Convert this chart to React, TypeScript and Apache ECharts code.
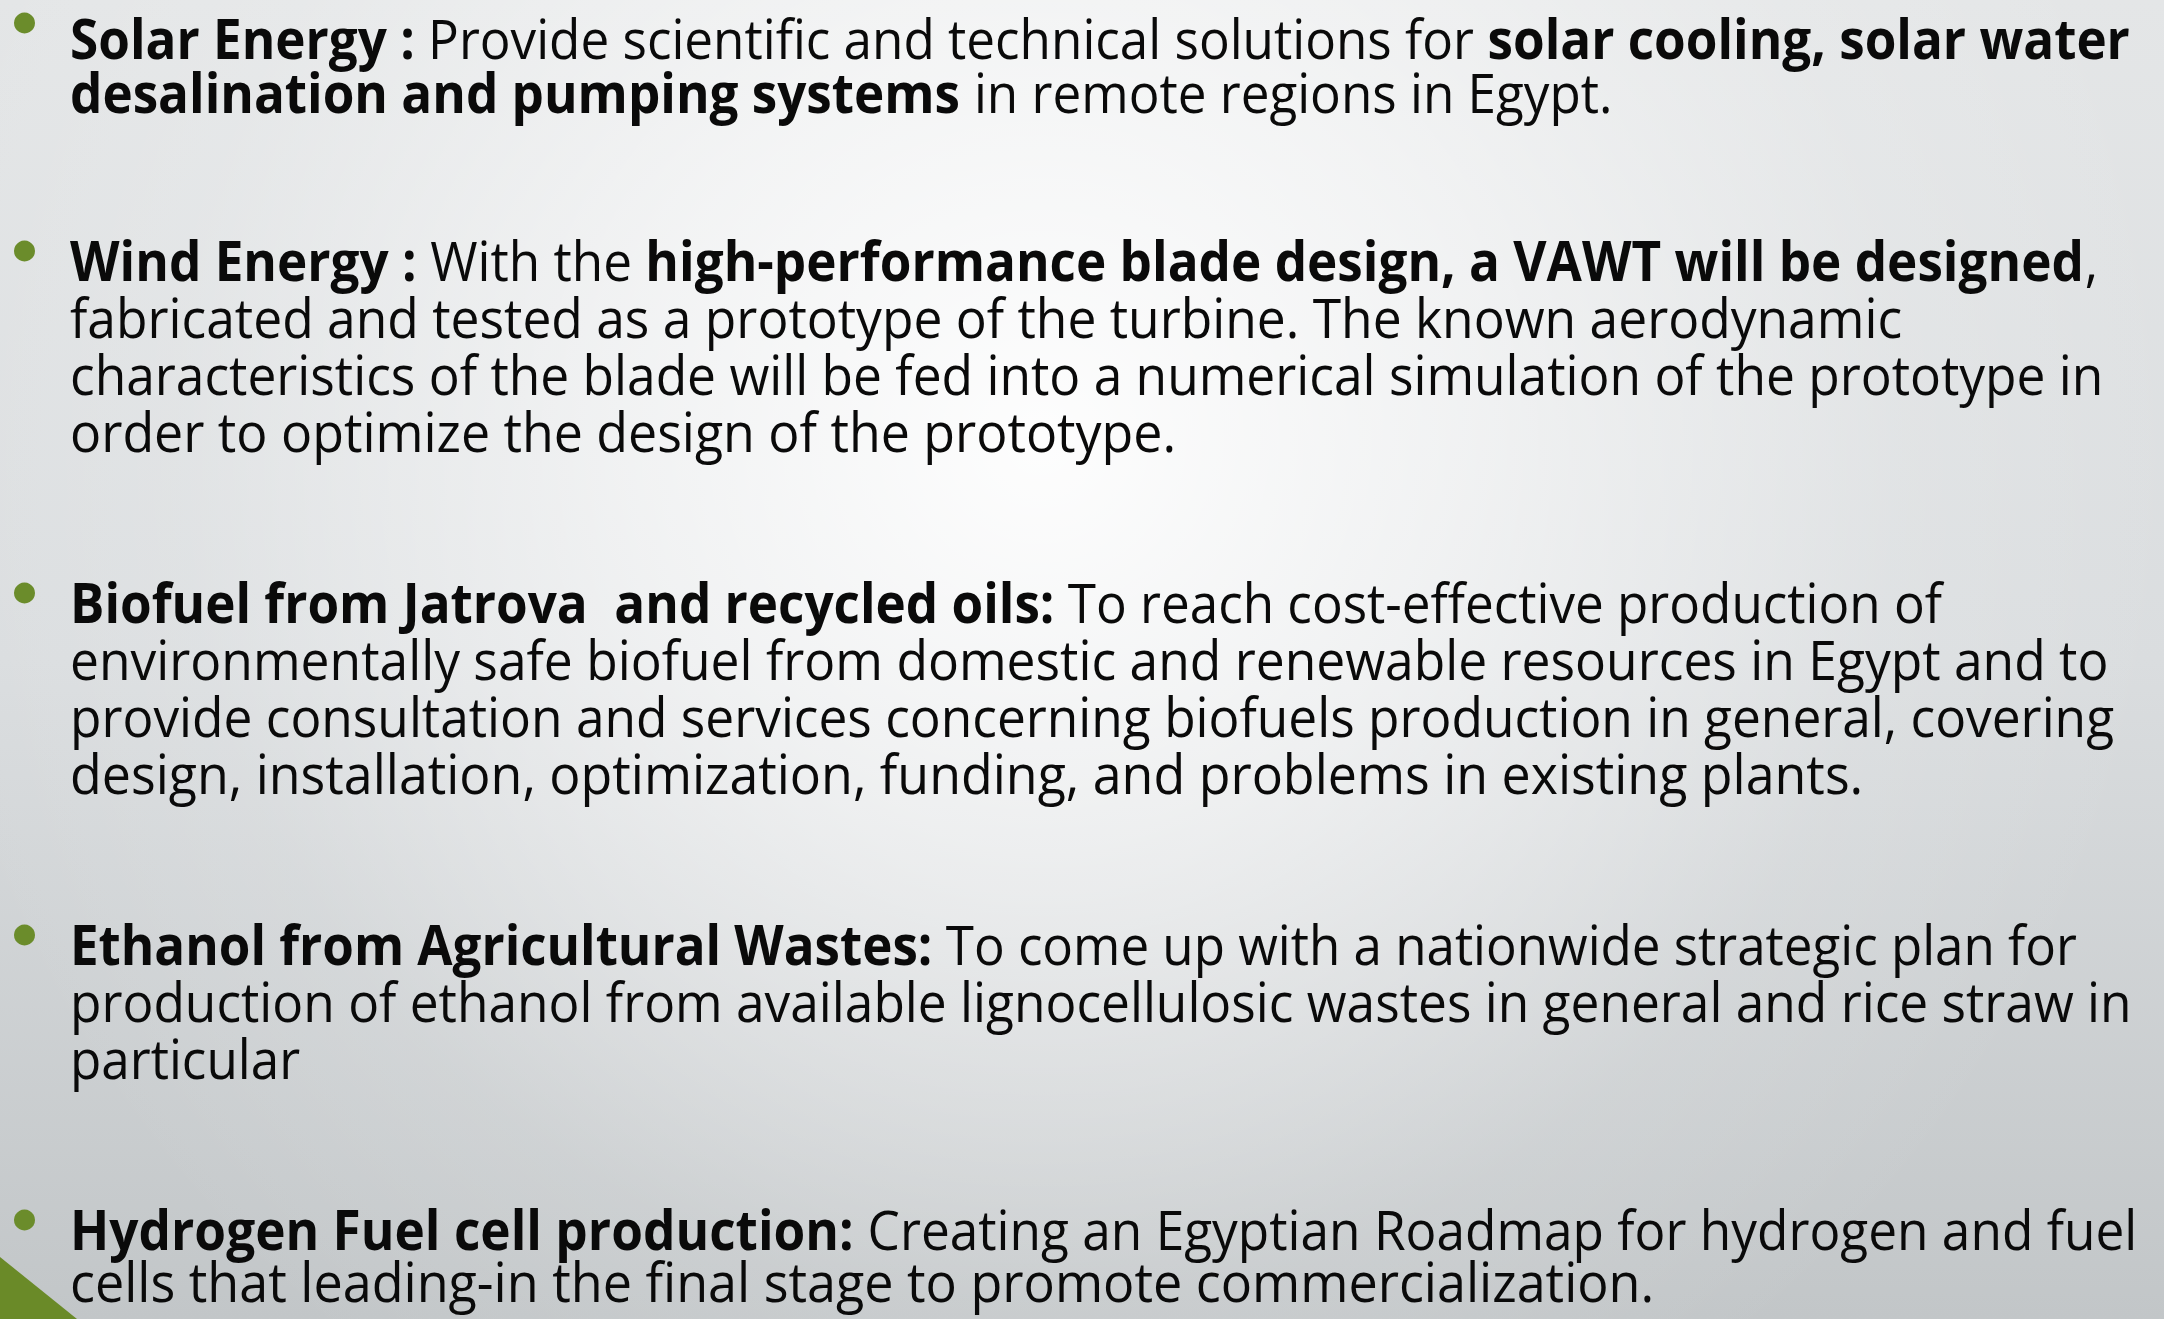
import React, { useEffect, useRef } from "react";
import * as echarts from "echarts";

type Seg = [string, boolean]; // [text, bold]

const solarLines: Seg[][] = [
  [["Solar Energy :", true], [" Provide scientific and technical solutions for ", false], ["solar cooling, solar water", true]],
  [["desalination and pumping systems", true], [" in remote regions in Egypt.", false]],
];

const windLines: Seg[][] = [
  [["Wind Energy :", true], [" With the ", false], ["high-performance blade design, a VAWT will be designed", true], [",", false]],
  [["fabricated and tested as a prototype of the turbine. The known aerodynamic", false]],
  [["characteristics of the blade will be fed into a numerical simulation of the prototype in", false]],
  [["order to optimize the design of the prototype.", false]],
];

const biofuelLines: Seg[][] = [
  [["Biofuel from Jatrova ", true], [" and recycled oils:", true], [" To reach cost-effective production of", false]],
  [["environmentally safe biofuel from domestic and renewable resources in Egypt and to", false]],
  [["provide consultation and services concerning biofuels production in general, covering", false]],
  [["design, installation, optimization, funding, and problems in existing plants.", false]],
];

const ethanolLines: Seg[][] = [
  [["Ethanol from Agricultural Wastes:", true], [" To come up with a nationwide strategic plan for", false]],
  [["production of ethanol from available lignocellulosic wastes in general and rice straw in", false]],
  [["particular", false]],
];

const hydrogenLines: Seg[][] = [
  [["Hydrogen Fuel cell production:", true], [" Creating an Egyptian Roadmap for hydrogen and fuel", false]],
  [["cells that leading-in the final stage to promote commercialization.", false]],
];

const paragraphs = [solarLines, windLines, biofuelLines, ethanolLines, hydrogenLines];
const paragraphStartRow = [0, 4, 10, 16, 21];

// layout (pixels)
const lineRightEdges = [
  [2130, 1613],
  [2098, 1902, 2105, 1176],
  [1942, 2110, 2115, 1863],
  [2077, 2133, 300],
  [2138, 1654],
];

const W = 2164;
const H = 1319;
const TEXT_LEFT = 70;
const FIRST_BASELINE = 53;
const ROW_PITCH = 57;
const FONT_SIZE = 55;
const LINE_HEIGHT = 54;
const FONT_FAMILY = '"Open Sans"';
const CENTRAL_OFFSET = 21;
const GREEN = "#6b8c2b";
// rows nudged so their text boxes stay inside the page
const rowBaselineOverride: Record<number, number> = { 0: 59, 1: 113, 22: 1302 };

export default function App() {
  const ref = useRef<HTMLDivElement>(null);

  useEffect(() => {
    document.body.style.margin = "0";
    if (!ref.current) return;
    const chart = echarts.init(ref.current, undefined, { renderer: "svg", width: W, height: H });

    const canvas = document.createElement("canvas");
    const ctx = canvas.getContext("2d")!;
    const measure = (t: string, bold: boolean) => {
      ctx.font = `${bold ? "bold" : "normal"} ${FONT_SIZE}px ${FONT_FAMILY}`;
      return ctx.measureText(t).width;
    };

    const elements: any[] = [];
    elements.push({
      type: "rect",
      shape: { x: 0, y: 0, width: W, height: H },
      style: {
        fill: {
          type: "linear", x: 0, y: 0, x2: 0, y2: 1,
          colorStops: [
            { offset: 0, color: "#e4e6e7" },
            { offset: 0.5, color: "#dadddf" },
            { offset: 1, color: "#c2c6c8" },
          ],
        },
      },
      silent: true,
    });
    elements.push({
      type: "rect",
      shape: { x: 0, y: 0, width: W, height: H },
      style: {
        fill: {
          type: "radial", x: 1040, y: 440, r: 1150, global: true,
          colorStops: [
            { offset: 0, color: "rgba(255,255,255,0.95)" },
            { offset: 0.35, color: "rgba(255,255,255,0.6)" },
            { offset: 0.75, color: "rgba(255,255,255,0.12)" },
            { offset: 1, color: "rgba(255,255,255,0)" },
          ],
        },
      },
      silent: true,
    });

    paragraphs.forEach((lines, p) => {
      const row0 = paragraphStartRow[p];
      const base0 = FIRST_BASELINE + row0 * ROW_PITCH;
      elements.push({
        type: "circle",
        shape: { cx: 24.5, cy: base0 - 30, r: 10.5 },
        style: { fill: GREEN },
        silent: true,
      });
      lines.forEach((segs, i) => {
        const row = row0 + i;
        const baseline = rowBaselineOverride[row] ?? FIRST_BASELINE + row * ROW_PITCH;
        const parts = segs.map(([t, b]) => {
          const m = t.match(/^(\s*)(.*?)(\s*)$/)!;
          const lead = measure(m[1], b);
          const core = measure(m[2], b);
          const trail = measure(m[3], b);
          return { core: m[2], bold: b, lead, coreW: core, adv: lead + core + trail };
        });
        let total = 0;
        parts.forEach((pt, k) => {
          total += k === parts.length - 1 ? pt.lead + pt.coreW : pt.adv;
        });
        const s = (lineRightEdges[p][i] - TEXT_LEFT) / total;
        let cx = TEXT_LEFT;
        parts.forEach((pt) => {
          elements.push({
            type: "text",
            x: cx + pt.lead * s,
            y: baseline - CENTRAL_OFFSET,
            scaleX: s,
            silent: true,
            style: {
              text: pt.core,
              fontFamily: FONT_FAMILY,
              fontSize: FONT_SIZE,
              lineHeight: LINE_HEIGHT,
              fontWeight: pt.bold ? "bold" : "normal",
              fill: "#0a0a0a",
              align: "left",
              verticalAlign: "middle",
            },
          });
          cx += pt.adv * s;
        });
      });
    });

    elements.push({
      type: "polygon",
      shape: { points: [[0, 1257], [77, H], [0, H]] },
      style: { fill: "#6a8a28" },
      silent: true,
    });

    chart.setOption({ animation: false, graphic: { elements } });
    return () => chart.dispose();
  }, []);

  return <div ref={ref} style={{ position: "absolute", left: 0, top: 0, width: W, height: H }} />;
}
